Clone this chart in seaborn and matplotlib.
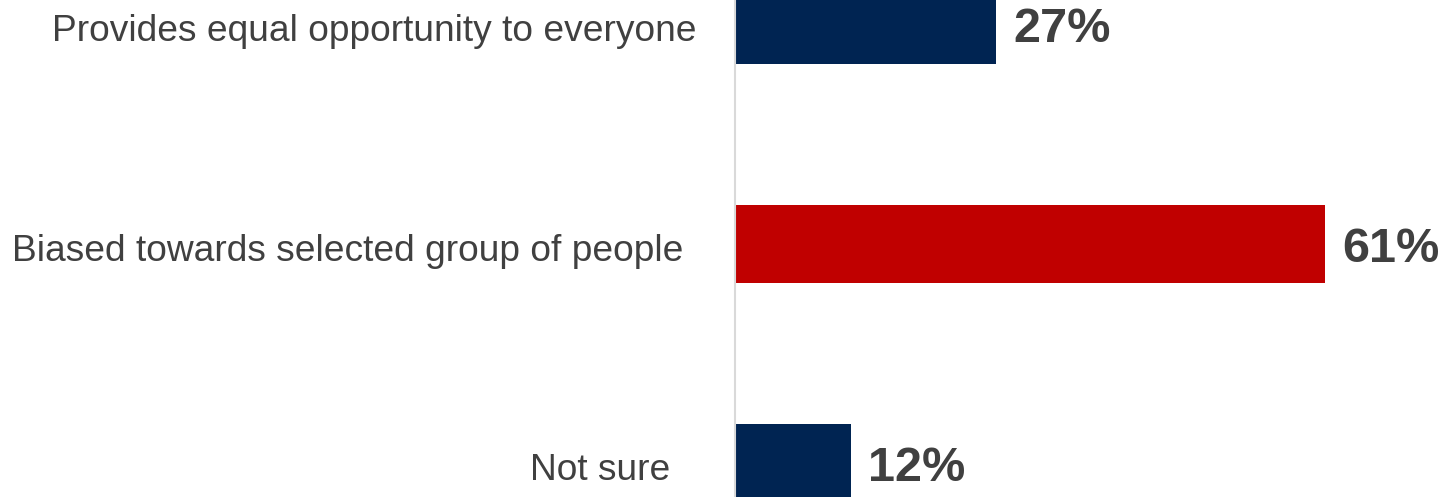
import matplotlib
matplotlib.use("Agg")
import matplotlib.pyplot as plt
import seaborn as sns
import pandas as pd

categories = ["Provides equal opportunity to everyone",
              "Biased towards selected group of people",
              "Not sure"]
values = [27, 61, 12]
value_labels = ["27%", "61%", "12%"]
bar_colors = ["#002452", "#C00000", "#002452"]

sns.set_theme(style="white")
plt.rcParams['font.family'] = ['Liberation Sans', 'DejaVu Sans']

df = pd.DataFrame({"category": categories, "value": values})

fig = plt.figure(figsize=(14.42, 4.97), dpi=100)
ax = fig.add_axes([735 / 1442, 0, 700 / 1442, 1])

sns.barplot(data=df, x="value", y="category", hue="category",
            palette=bar_colors, legend=False, orient="h",
            width=0.356, ax=ax, saturation=1, linewidth=0)

ax.set_xlim(0, 700 / 9.67)
ax.set_ylim(2.155, -0.114)

# value labels
for i, (v, lab) in enumerate(zip(values, value_labels)):
    ax.annotate(lab, xy=(v, i), xytext=(17, -5), textcoords="offset pixels",
                va="center", ha="left", fontsize=35, fontweight="bold",
                color="#404040", annotation_clip=False)

# category labels (right ends as in the reference)
label_gap_px = [38, 52, 65]
ax.set_yticks(range(len(categories)))
ax.set_yticklabels([""] * len(categories))
for i, (cat, gap) in enumerate(zip(categories, label_gap_px)):
    ax.annotate(cat, xy=(0, i), xytext=(-gap, -7), textcoords="offset pixels",
                va="center", ha="right", fontsize=26.7, color="#404040",
                annotation_clip=False)

ax.set_xlabel("")
ax.set_ylabel("")
ax.set_xticks([])
ax.tick_params(axis="y", length=0)
for s in ["top", "right", "bottom"]:
    ax.spines[s].set_visible(False)
ax.spines["left"].set_color("#d9d9d9")
ax.spines["left"].set_linewidth(1.5)

fig.savefig("out.png", dpi=100)
